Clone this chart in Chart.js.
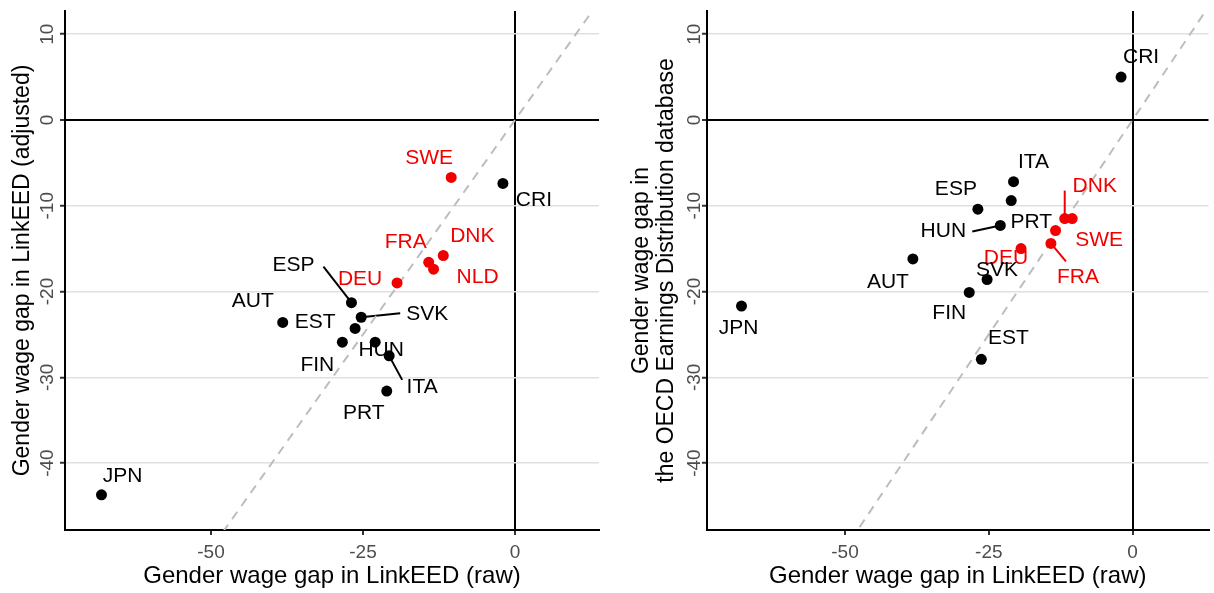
<!DOCTYPE html>
<html>
<head>
<meta charset="utf-8">
<script src="https://cdn.jsdelivr.net/npm/chart.js@4.4.1/dist/chart.umd.min.js"></script>
<style>
  html, body { margin: 0; padding: 0; background: #fff; }
  #wrap { position: relative; width: 1214px; height: 593px; }
  canvas { position: absolute; top: 0; }
</style>
</head>
<body>
<div id="wrap">
  <canvas id="chartAjustado" width="607" height="593" style="left:0"></canvas>
  <canvas id="chartOecd" width="607" height="593" style="left:607px"></canvas>
</div>
<script>
// geral
Chart.defaults.font.family = "'Liberation Sans', Arial, sans-serif";

const paises      = ['AUT', 'CRI', 'DEU', 'DNK', 'ESP', 'EST', 'FIN', 'FRA', 'HUN', 'ITA', 'JPN', 'NLD', 'PRT', 'SVK', 'SWE'];
const gapBruto    = [-38.2, -2.0, -19.4, -11.8, -26.9, -26.3, -28.4, -14.2, -23.0, -20.7, -68.0, -13.4, -21.1, -25.3, -10.5];
const gapAjustado = [-23.6, -7.4, -19.0, -15.8, -21.3, -24.3, -25.9, -16.6, -25.9, -27.5, -43.7, -17.4, -31.6, -23.0, -6.7];
const gapOecd     = [-16.2,  5.0, -15.0, -11.5, -10.4, -27.9, -20.1, -14.4, -12.3, -7.2, -21.7, -12.9, -9.4, -18.6, -11.5];
const destaque    = ['DEU', 'DNK', 'FRA', 'NLD', 'SWE'];
const xTicks = [-50, -25, 0];
const yTicks = [-40, -30, -20, -10, 0, 10];

const VERMELHO = '#f20000';
const corPais = p => destaque.includes(p) ? VERMELHO : '#000';

// posição dos rótulos (px a partir do ponto) e, quando há, ponta da linha guia
const rotulosAjustado = {
    SWE: [-22, -19], CRI: [31, 17], DNK: [29, -19], FRA: [-23, -20], NLD: [44, 8],
    DEU: [-37, -4], ESP: [-58, -37, -28, -36], AUT: [-30, -21], EST: [-40, -6],
    SVK: [66, -3, 39, -4], FIN: [-25, 23], HUN: [6, 8], ITA: [33, 31, 13, 24],
    PRT: [-23, 22], JPN: [21, -19]
};
const rotulosOecd = {
    CRI: [20, -20], ITA: [20, -20], ESP: [-22, -20], PRT: [20, 22],
    HUN: [-57, 6, -28, 6], DNK: [30, -32, 0, -28], SWE: [27, 22], DEU: [-15, 10],
    FRA: [27, 34, 15, 18], AUT: [-25, 23], SVK: [10, -9], FIN: [-20, 21],
    EST: [27, -21], JPN: [-3, 22]
};

// rótulos dos países, linhas guia e ticks do eixo y (girados)
const rotulosPaises = {
    id: 'rotulosPaises',
    beforeDatasetsDraw(chart, args, opts) {
        const { ctx } = chart;
        const meta = chart.getDatasetMeta(1);
        ctx.save();
        ctx.lineWidth = 2;
        paises.forEach((p, i) => {
            const r = opts.posicoes[p];
            if (!r || r.length < 4) return;
            const pt = meta.data[i];
            ctx.strokeStyle = corPais(p);
            ctx.beginPath();
            ctx.moveTo(pt.x, pt.y);
            ctx.lineTo(pt.x + r[2], pt.y + r[3]);
            ctx.stroke();
        });
        ctx.restore();
    },
    afterDatasetsDraw(chart, args, opts) {
        const { ctx, chartArea: { left }, scales: { y } } = chart;
        const meta = chart.getDatasetMeta(1);
        ctx.save();
        ctx.font = "21px 'Liberation Sans', Arial, sans-serif";
        ctx.textAlign = 'center';
        ctx.textBaseline = 'middle';
        paises.forEach((p, i) => {
            const r = opts.posicoes[p];
            if (!r) return;
            const pt = meta.data[i];
            ctx.fillStyle = corPais(p);
            ctx.fillText(p, pt.x + r[0], pt.y + r[1]);
        });

        ctx.font = "19px 'Liberation Sans', Arial, sans-serif";
        ctx.fillStyle = '#4d4d4d';
        yTicks.forEach(v => {
            ctx.save();
            ctx.translate(left - opts.tickGap, y.getPixelForValue(v));
            ctx.rotate(-Math.PI / 2);
            ctx.fillText(String(v), 0, 0);
            ctx.restore();
        });
        ctx.restore();
    }
};

function graficoGap(id, valoresY, tituloY, posicoes, larguraEixoY, padDireita, xMax, tituloPad, tituloLinha, tickGap) {
    new Chart(document.getElementById(id), {
        data: {
            datasets: [
                {
                    type: 'line',
                    data: [{ x: -80, y: -80 }, { x: 20, y: 20 }],
                    borderColor: '#bdbdbd',
                    borderWidth: 2,
                    borderDash: [9, 7],
                    pointRadius: 0,
                    order: 2
                },
                {
                    type: 'scatter',
                    data: gapBruto.map((x, i) => ({ x: x, y: valoresY[i] })),
                    pointBackgroundColor: paises.map(corPais),
                    pointBorderWidth: 0,
                    pointRadius: 5.5,
                    order: 1
                }
            ]
        },
        options: {
            responsive: false,
            animation: false,
            layout: { padding: { top: 11, right: padDireita, left: 0, bottom: 0 } },
            plugins: {
                legend: { display: false },
                tooltip: { enabled: false },
                rotulosPaises: { posicoes: posicoes, tickGap: tickGap }
            },
            scales: {
                x: {
                    type: 'linear',
                    min: -74,
                    max: xMax,
                    afterBuildTicks: s => { s.ticks = xTicks.map(v => ({ value: v })); },
                    afterFit: s => { s.height = 63; },
                    grid: {
                        color: c => (c.tick && c.tick.value === 0) ? '#000' : 'rgba(0,0,0,0)',
                        lineWidth: 2,
                        tickLength: 5,
                        tickColor: '#333',
                        tickWidth: 2
                    },
                    border: { color: '#000', width: 2 },
                    ticks: { color: '#4d4d4d', font: { size: 19 }, padding: 6, maxRotation: 0 },
                    title: {
                        display: true,
                        text: 'Gender wage gap in LinkEED (raw)',
                        color: '#000',
                        font: { size: 24 },
                        padding: { top: 0, bottom: 2 }
                    }
                },
                y: {
                    type: 'linear',
                    min: -47.8,
                    max: 12.7,
                    afterBuildTicks: s => { s.ticks = yTicks.map(v => ({ value: v })); },
                    afterFit: s => { s.width = larguraEixoY; },
                    grid: {
                        color: c => (c.tick && c.tick.value === 0) ? '#000' : '#e0e0e0',
                        lineWidth: c => (c.tick && c.tick.value === 0) ? 2 : 1.5,
                        tickLength: 5,
                        tickColor: '#333',
                        tickWidth: 2
                    },
                    border: { color: '#000', width: 2 },
                    ticks: { display: false },
                    title: {
                        display: true,
                        text: tituloY,
                        color: '#000',
                        font: { size: 23, lineHeight: tituloLinha },
                        padding: { top: tituloPad, bottom: 0 }
                    }
                }
            }
        },
        plugins: [rotulosPaises]
    });
}

// Gráfico ajustado
graficoGap('chartAjustado', gapAjustado, 'Gender wage gap in LinkEED (adjusted)',
    rotulosAjustado, 65, 8, 13.8, 9, 1.2, 17);

// Gráfico OECD
graficoGap('chartOecd', gapOecd, ['Gender wage gap in', 'the OECD Earnings Distribution database'],
    rotulosOecd, 100, 0, 13.2, 22, 1.087, 12);
</script>
</body>
</html>
